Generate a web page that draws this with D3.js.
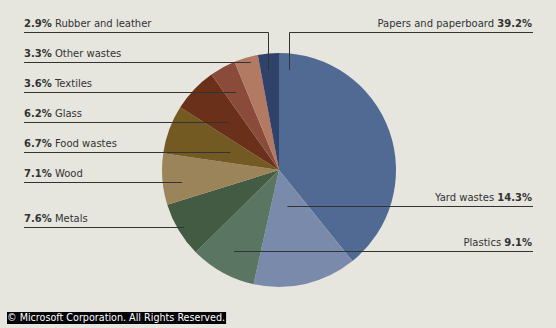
<!DOCTYPE html>
<html>
<head>
<meta charset="utf-8">
<script src="https://cdn.jsdelivr.net/npm/d3@7"></script>
<style>
  body { margin: 0; background: #e6e6df; }
  svg { display: block; font-family: Tahoma, "DejaVu Sans", sans-serif; }
</style>
</head>
<body>
<div class="canvas"></div>
<script>
// data (clockwise from 12 o'clock)
const categories = ['Papers and paperboard', 'Yard wastes', 'Plastics', 'Metals', 'Wood',
    'Food wastes', 'Glass', 'Textiles', 'Other wastes', 'Rubber and leather'];
const shares = [39.2, 14.3, 9.1, 7.6, 7.1, 6.7, 6.2, 3.6, 3.3, 2.9];
const colors = ['#506a93', '#7a8aab', '#5a7562', '#435a43', '#9b845a',
    '#735a22', '#6b301a', '#8b4b3b', '#b37a63', '#31426a'];

const data = categories.map((name, i) => ({ name, value: shares[i] }));

const dims = { width: 556, height: 328, radius: 117 };
const cent = { x: 279, y: 170 };

// label layout: side, line y, leader type, where on the slice the leader points
const layout = {
    'Rubber and leather': { side: 'left', y: 32, elbow: 70, anchorFrac: 0.4 },
    'Other wastes': { side: 'left', y: 62, anchorFrac: 0.65 },
    'Textiles': { side: 'left', y: 92 },
    'Glass': { side: 'left', y: 122 },
    'Food wastes': { side: 'left', y: 152 },
    'Wood': { side: 'left', y: 182, anchorFrac: 0.4 },
    'Metals': { side: 'left', y: 227 },
    'Papers and paperboard': { side: 'right', y: 32, elbow: 70, anchorFrac: 0.04 },
    'Yard wastes': { side: 'right', y: 206 },
    'Plastics': { side: 'right', y: 251 }
};
const xLeft = 24, xRight = 533;

const svg = d3.select('.canvas')
    .append('svg')
    .attr('width', dims.width)
    .attr('height', dims.height);

svg.append('rect')
    .attr('width', dims.width)
    .attr('height', dims.height)
    .attr('fill', '#e6e6df');

const colorScale = d3.scaleOrdinal()
    .domain(categories)
    .range(colors);

const pie = d3.pie()
    .sort(null)
    .value(d => d.value);

const arcPath = d3.arc()
    .outerRadius(dims.radius)
    .innerRadius(0);

const arcs = pie(data);

const graph = svg.append('g')
    .attr('transform', `translate(${cent.x},${cent.y})`);

graph.selectAll('path')
    .data(arcs)
    .enter()
    .append('path')
    .attr('d', arcPath)
    .attr('fill', d => colorScale(d.data.name));

// leader lines + labels
const labels = svg.append('g');

arcs.forEach(d => {
    const lay = layout[d.data.name];
    const frac = lay.anchorFrac !== undefined ? lay.anchorFrac : 0.5;
    const ang = d.startAngle + (d.endAngle - d.startAngle) * frac; // clockwise from 12
    const xEnd = lay.side === 'left' ? xLeft : xRight;
    let pts;
    if (lay.elbow !== undefined) {
        // vertical leader up from elbow y, then horizontal
        const dy = lay.elbow - cent.y;
        const x = Math.round(cent.x - dy * Math.tan(ang)) + 0.5;
        pts = [[x, lay.elbow], [x, lay.y + 0.5], [xEnd, lay.y + 0.5]];
    } else {
        const dy = lay.y - cent.y;
        const x = cent.x - dy * Math.tan(ang);
        pts = [[x, lay.y + 0.5], [xEnd, lay.y + 0.5]];
    }
    labels.append('path')
        .attr('d', d3.line()(pts))
        .attr('fill', 'none')
        .attr('stroke', '#333')
        .attr('stroke-width', 1);

    const pct = d.data.value.toFixed(1) + '%';
    const t = labels.append('text')
        .attr('y', lay.y - 5)
        .attr('font-size', 10)
        .attr('fill', '#333');
    if (lay.side === 'left') {
        t.attr('x', xLeft).attr('text-anchor', 'start');
        t.append('tspan').attr('font-weight', 'bold').text(pct);
        t.append('tspan').text(' ' + d.data.name);
    } else {
        t.attr('x', xRight - 1).attr('text-anchor', 'end');
        t.append('tspan').text(d.data.name + ' ');
        t.append('tspan').attr('font-weight', 'bold').text(pct);
    }
});

// copyright badge
const copy = svg.append('g');
const ct = copy.append('text')
    .attr('x', 7)
    .attr('y', 321)
    .attr('font-size', 9.6)
    .attr('fill', '#fff')
    .text('© Microsoft Corporation. All Rights Reserved.');
const bb = ct.node().getBBox();
copy.insert('rect', 'text')
    .attr('x', 7)
    .attr('y', 312)
    .attr('width', bb.width + 1)
    .attr('height', 12)
    .attr('fill', '#000');
</script>
</body>
</html>
